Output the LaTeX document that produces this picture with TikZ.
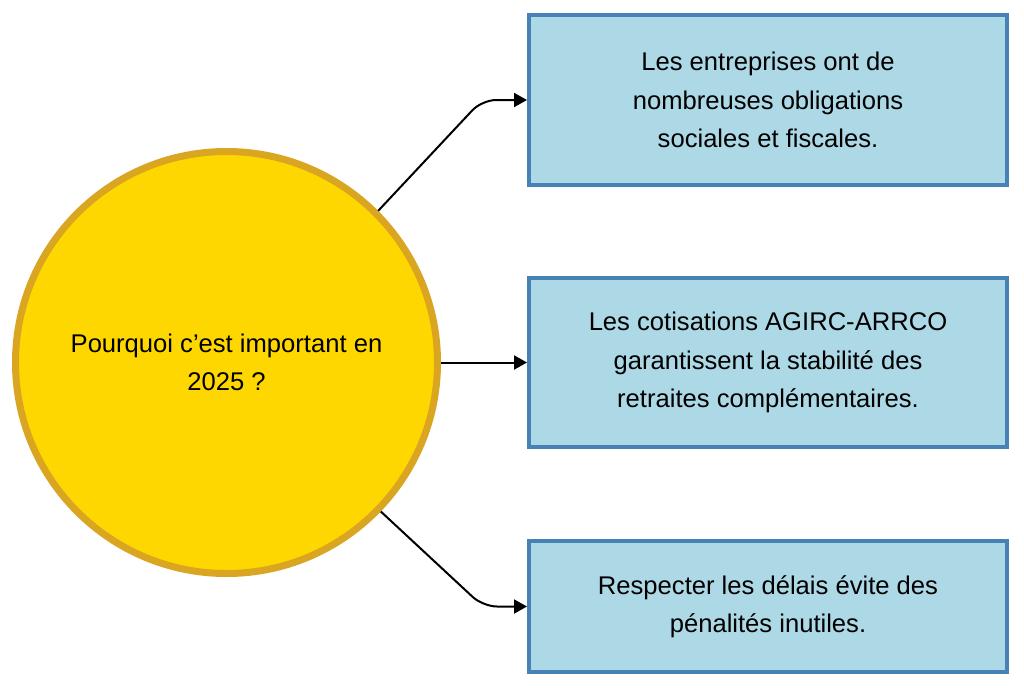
\documentclass[tikz,border=0pt]{standalone}
\usepackage{fontspec}
\setmainfont{Liberation Sans}
\usetikzlibrary{arrows.meta,shadows}
\definecolor{boxfill}{HTML}{ADD8E6}
\definecolor{boxline}{HTML}{4682B4}
\definecolor{circfill}{HTML}{FFD700}
\definecolor{circline}{HTML}{DAA520}
\begin{document}
\begin{tikzpicture}[x=1pt,y=-1pt,
  txt/.style={font=\fontsize{25.6}{38.5}\selectfont,align=center,text=black},
  infobox/.style={txt,draw=boxline,fill=boxfill,line width=4pt,minimum width=478pt,inner sep=0pt,
    drop shadow={shadow xshift=1.5pt,shadow yshift=-1.5pt,opacity=0.25,fill=black!60}},
  hub/.style={txt,circle,draw=circline,fill=circfill,line width=7pt,minimum size=422pt,inner sep=0pt,
    drop shadow={shadow xshift=1.5pt,shadow yshift=-1.5pt,opacity=0.25,fill=black!60}},
  conn/.style={line width=2pt,draw=black,rounded corners=14pt,-{Triangle[length=13pt,width=14pt]}}
]
\useasboundingbox (0,0) rectangle (1024,689);
\fill[white] (0,0) rectangle (1024,689);
\node[hub] (c) at (226.5,362.5) {Pourquoi c’est important en\\2025 ?};
\node[infobox,minimum height=170pt] (b1) at (768,100) {Les entreprises ont de\\nombreuses obligations\\sociales et fiscales.};
\node[infobox,minimum height=169pt] (b2) at (768,362.5) {Les cotisations AGIRC-ARRCO\\garantissent la stabilité des\\retraites complémentaires.};
\node[infobox,minimum height=131pt] (b3) at (768,606.5) {Respecter les délais évite des\\pénalités inutiles.};
\coordinate (k1) at (482,100);
\coordinate (k3) at (483,606.5);
\draw[conn] (c.45) -- (k1) -- (b1.west);
\draw[conn] (c.east) -- (b2.west);
\draw[conn] (c.-44) -- (k3) -- (b3.west);
\end{tikzpicture}
\end{document}
